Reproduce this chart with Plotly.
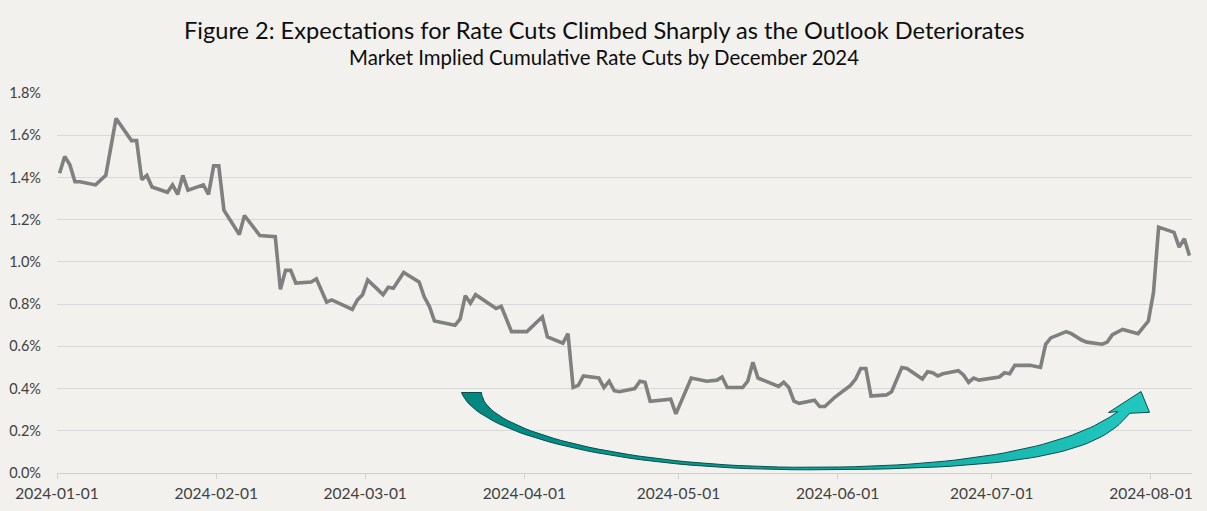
import numpy as np
import plotly.graph_objects as go

# ---------------- data ----------------
dates = [
    "2024-01-01", "2024-01-02", "2024-01-03", "2024-01-04", "2024-01-05", "2024-01-08",
    "2024-01-10", "2024-01-12", "2024-01-15", "2024-01-16", "2024-01-17", "2024-01-18",
    "2024-01-19", "2024-01-22", "2024-01-23", "2024-01-24", "2024-01-25", "2024-01-26",
    "2024-01-29", "2024-01-30", "2024-01-31", "2024-02-01", "2024-02-02", "2024-02-05",
    "2024-02-06", "2024-02-09", "2024-02-12", "2024-02-13", "2024-02-14", "2024-02-15",
    "2024-02-16", "2024-02-19", "2024-02-20", "2024-02-22", "2024-02-23", "2024-02-27",
    "2024-02-28", "2024-02-29", "2024-03-01", "2024-03-04", "2024-03-05", "2024-03-06",
    "2024-03-08", "2024-03-11", "2024-03-12", "2024-03-13", "2024-03-14", "2024-03-18",
    "2024-03-19", "2024-03-20", "2024-03-21", "2024-03-22", "2024-03-26", "2024-03-27",
    "2024-03-29", "2024-04-01", "2024-04-04", "2024-04-05", "2024-04-08", "2024-04-09",
    "2024-04-10", "2024-04-11", "2024-04-12", "2024-04-15", "2024-04-16", "2024-04-17",
    "2024-04-18", "2024-04-19", "2024-04-22", "2024-04-23", "2024-04-24", "2024-04-25",
    "2024-04-29", "2024-04-30", "2024-05-03", "2024-05-06", "2024-05-08", "2024-05-09",
    "2024-05-10", "2024-05-13", "2024-05-14", "2024-05-15", "2024-05-16", "2024-05-20",
    "2024-05-21", "2024-05-22", "2024-05-23", "2024-05-24", "2024-05-27", "2024-05-28",
    "2024-05-29", "2024-05-31", "2024-06-03", "2024-06-04", "2024-06-05", "2024-06-06",
    "2024-06-07", "2024-06-10", "2024-06-11", "2024-06-13", "2024-06-14", "2024-06-17",
    "2024-06-18", "2024-06-19", "2024-06-20", "2024-06-21", "2024-06-24", "2024-06-25",
    "2024-06-26", "2024-06-27", "2024-06-28", "2024-07-02", "2024-07-03", "2024-07-04",
    "2024-07-05", "2024-07-08", "2024-07-10", "2024-07-11", "2024-07-12", "2024-07-15",
    "2024-07-16", "2024-07-18", "2024-07-19", "2024-07-22", "2024-07-23", "2024-07-24",
    "2024-07-26", "2024-07-29", "2024-07-31", "2024-08-01", "2024-08-02", "2024-08-05",
    "2024-08-06", "2024-08-07", "2024-08-08",
]

rate_cuts_pct = [
    1.42, 1.50, 1.46, 1.38, 1.38, 1.365,
    1.41, 1.68, 1.575, 1.575, 1.39, 1.41,
    1.355, 1.33, 1.365, 1.32, 1.41, 1.34,
    1.365, 1.32, 1.455, 1.455, 1.245, 1.13,
    1.22, 1.125, 1.12, 0.87, 0.96, 0.96,
    0.90, 0.905, 0.92, 0.81, 0.82, 0.775,
    0.82, 0.845, 0.915, 0.845, 0.88, 0.875,
    0.95, 0.905, 0.835, 0.79, 0.72, 0.70,
    0.73, 0.84, 0.805, 0.845, 0.78, 0.79,
    0.67, 0.67, 0.74, 0.645, 0.615, 0.66,
    0.405, 0.415, 0.46, 0.45, 0.405, 0.435,
    0.39, 0.385, 0.40, 0.435, 0.43, 0.34,
    0.35, 0.28, 0.45, 0.435, 0.44, 0.455,
    0.405, 0.405, 0.435, 0.525, 0.45, 0.41,
    0.43, 0.405, 0.34, 0.33, 0.345, 0.315,
    0.315, 0.36, 0.415, 0.445, 0.495, 0.495,
    0.365, 0.37, 0.385, 0.50, 0.495, 0.445,
    0.48, 0.475, 0.46, 0.47, 0.485, 0.465,
    0.43, 0.45, 0.44, 0.455, 0.475, 0.47,
    0.51, 0.51, 0.50, 0.61, 0.64, 0.67,
    0.66, 0.63, 0.62, 0.61, 0.62, 0.655,
    0.68, 0.66, 0.72, 0.855, 1.165, 1.14,
    1.07, 1.11, 1.03,
]

# month boundaries (Excel "between tick marks" date axis) and their labels
tick_positions = [
    "2023-12-31 12:00", "2024-01-31 12:00", "2024-02-29 12:00", "2024-03-31 12:00",
    "2024-04-30 12:00", "2024-05-31 12:00", "2024-06-30 12:00", "2024-07-31 12:00",
]
tick_labels = [
    "2024-01-01", "2024-02-01", "2024-03-01", "2024-04-01",
    "2024-05-01", "2024-06-01", "2024-07-01", "2024-08-01",
]
y_ticks = [0.0, 0.2, 0.4, 0.6, 0.8, 1.0, 1.2, 1.4, 1.6, 1.8]

title_text = "Figure 2: Expectations for Rate Cuts Climbed Sharply as the Outlook Deteriorates"
subtitle_text = "Market Implied Cumulative Rate Cuts by December 2024"

W, H = 1207, 511
L, R, T, B = 57, 15, 93, 38

FONT = "Lato"
BG = "#F2F1EE"


# ---------------- decorative curved arrow (overlay frame in pixel units) ----------------
def bezier(p0, p1, p2, p3, n=40):
    t = np.linspace(0, 1, n)[:, None]
    p0, p1, p2, p3 = map(np.array, (p0, p1, p2, p3))
    pts = ((1 - t) ** 3) * p0 + 3 * ((1 - t) ** 2) * t * p1 + 3 * (1 - t) * t ** 2 * p2 + t ** 3 * p3
    return [tuple(p) for p in pts]


tail_outer, tail_inner = (461.5, 392.5), (481.5, 392.5)
bottom_outer, bottom_inner = (808, 469.8), (808, 467.3)
end_inner, end_outer = (1118, 411.5), (1129.5, 413.3)
head = [(1108.5, 412.5), (1141, 391.5), (1149.5, 412.3)]

inner = (bezier(tail_inner, (483, 430), (620, bottom_inner[1]), bottom_inner)
         + bezier(bottom_inner, (1020, bottom_inner[1]), (1090, 432), end_inner)[1:])
outer = (bezier(tail_outer, (475, 430), (600, bottom_outer[1]), bottom_outer)
         + bezier(bottom_outer, (1030, bottom_outer[1]), (1100, 452), end_outer)[1:])
arrow_pts = [tail_outer] + inner + head + outer[::-1]

fig = go.Figure()

fig.add_trace(go.Scatter(
    x=dates, y=rate_cuts_pct, mode="lines",
    line=dict(color="#808080", width=3.6),
    hoverinfo="skip", showlegend=False,
))

fig.add_trace(go.Scatter(
    x=[p[0] for p in arrow_pts], y=[p[1] for p in arrow_pts],
    mode="lines", fill="toself",
    line=dict(color="#0B4D49", width=1),
    fillgradient=dict(type="horizontal",
                      colorscale=[[0, "#00877F"], [0.5, "#0BA39B"], [1, "#22C8C0"]]),
    xaxis="x2", yaxis="y2", hoverinfo="skip", showlegend=False,
))

fig.update_layout(
    width=W, height=H, autosize=False,
    margin=dict(l=L, r=R, t=T, b=B, pad=0, autoexpand=False),
    paper_bgcolor=BG, plot_bgcolor=BG,
    font=dict(family=FONT, color="#404040"),
    xaxis=dict(
        type="date",
        range=["2023-12-31 12:00", "2024-08-08 12:00"],
        tickmode="array", tickvals=tick_positions, ticktext=tick_labels,
        showgrid=False, showline=True, linecolor="#D0D0D0", linewidth=1,
        ticks="outside", ticklen=5, tickcolor="#D0D0D0", tickwidth=1,
        tickfont=dict(family=FONT, size=15.5, color="#404040"),
        ticklabelstandoff=1, automargin=False,
        zeroline=False, fixedrange=True,
    ),
    yaxis=dict(
        range=[0, 1.8005],
        tickmode="array", tickvals=y_ticks,
        ticktext=[f"{v:.1f}%" for v in y_ticks],
        showgrid=True, gridcolor="#D9D9D9", gridwidth=1,
        zeroline=False, showline=False, ticks="",
        tickfont=dict(family=FONT, size=14.5, color="#404040"),
        ticklabelstandoff=15, automargin=False, fixedrange=True,
    ),
    xaxis2=dict(overlaying="x", range=[L, W - R], visible=False, fixedrange=True,
                automargin=False),
    yaxis2=dict(overlaying="y", range=[H - B, T], visible=False, fixedrange=True,
                automargin=False),
    annotations=[
        dict(text=title_text, xref="paper", yref="paper",
             x=(603.5 - L) / (W - L - R), y=(H - B - 30) / (H - B - T),
             xanchor="center", yanchor="middle", showarrow=False,
             font=dict(family=FONT, size=23.6, color="#0D0D0D")),
        dict(text=subtitle_text, xref="paper", yref="paper",
             x=(603.5 - L) / (W - L - R), y=(H - B - 57) / (H - B - T),
             xanchor="center", yanchor="middle", showarrow=False,
             font=dict(family=FONT, size=20.4, color="#0D0D0D")),
    ],
)

fig.write_html(
    "out.html",
    config={"displayModeBar": False},
    post_script="document.body.style.margin='0';document.body.style.padding='0';"
                "document.body.style.overflow='hidden';",
)
